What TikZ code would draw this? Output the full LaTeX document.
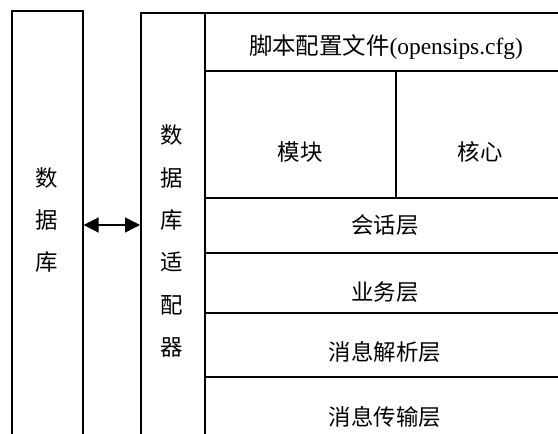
\documentclass[tikz,border=0pt]{standalone}
\usepackage{fontspec}
\setmainfont{Liberation Serif}
\newfontfamily\cjk{Noto Sans CJK SC}
\usetikzlibrary{arrows.meta}
\tikzset{
  box/.style={draw, line width=1.6bp, inner sep=0pt, minimum width=0pt},
  lbl/.style={inner sep=0pt, font=\cjk\fontsize{22.5}{26}\selectfont},
  vlbl/.style={inner sep=0pt, align=center, font=\cjk\fontsize{22.5}{42.5}\selectfont},
  conn/.style={line width=1.6bp, {Triangle[length=15bp,width=15bp]}-{Triangle[length=15bp,width=15bp]}}
}
\begin{document}
\begin{tikzpicture}[x=1bp,y=1bp]
\useasboundingbox (0,0) rectangle (558,-434);
\clip (0,0) rectangle (558,-434);
% left database column
\node[box, anchor=north west, minimum width=71bp, minimum height=460bp] (db) at (11,-10) {};
\node[vlbl] (dbt) at (46.5,-220) {数\\据\\库};
% adapter column
\node[box, anchor=north west, minimum width=64bp, minimum height=460bp] (adp) at (140,-12) {};
\node[vlbl] (adpt) at (172,-241) {数\\据\\库\\适\\配\\器};
% right stack
\node[box, anchor=north west, minimum width=380bp, minimum height=58bp] (cfg) at (204,-12) {};
\node[box, anchor=north west, minimum width=191bp, minimum height=127bp] (mod) at (204,-70) {};
\node[box, anchor=north west, minimum width=190bp, minimum height=127bp] (core) at (395,-70) {};
\node[box, anchor=north west, minimum width=380bp, minimum height=55bp] (sess) at (204,-197) {};
\node[box, anchor=north west, minimum width=380bp, minimum height=60bp] (biz) at (204,-252) {};
\node[box, anchor=north west, minimum width=380bp, minimum height=64bp] (parse) at (204,-312) {};
\node[box, anchor=north west, minimum width=380bp, minimum height=80bp] (trans) at (204,-376) {};
% labels
\node[lbl, font=\fontsize{23.5}{26}\selectfont] (cfgt) at (386,-47) {{\cjk 脚本配置文件}(opensips.cfg)};
\node[lbl] (modt) at (300,-152) {模块};
\node[lbl] (coret) at (480,-152) {核心};
\node[lbl] (sesst) at (385,-225) {会话层};
\node[lbl] (bizt) at (385,-292) {业务层};
\node[lbl] (parset) at (385,-352) {消息解析层};
\node[lbl] (transt) at (385,-417) {消息传输层};
% connector
\coordinate (a1) at (db.east |- 0,-225);
\coordinate (a2) at (adp.west |- 0,-225);
\draw[conn] (a1) -- (a2);
\end{tikzpicture}
\end{document}
